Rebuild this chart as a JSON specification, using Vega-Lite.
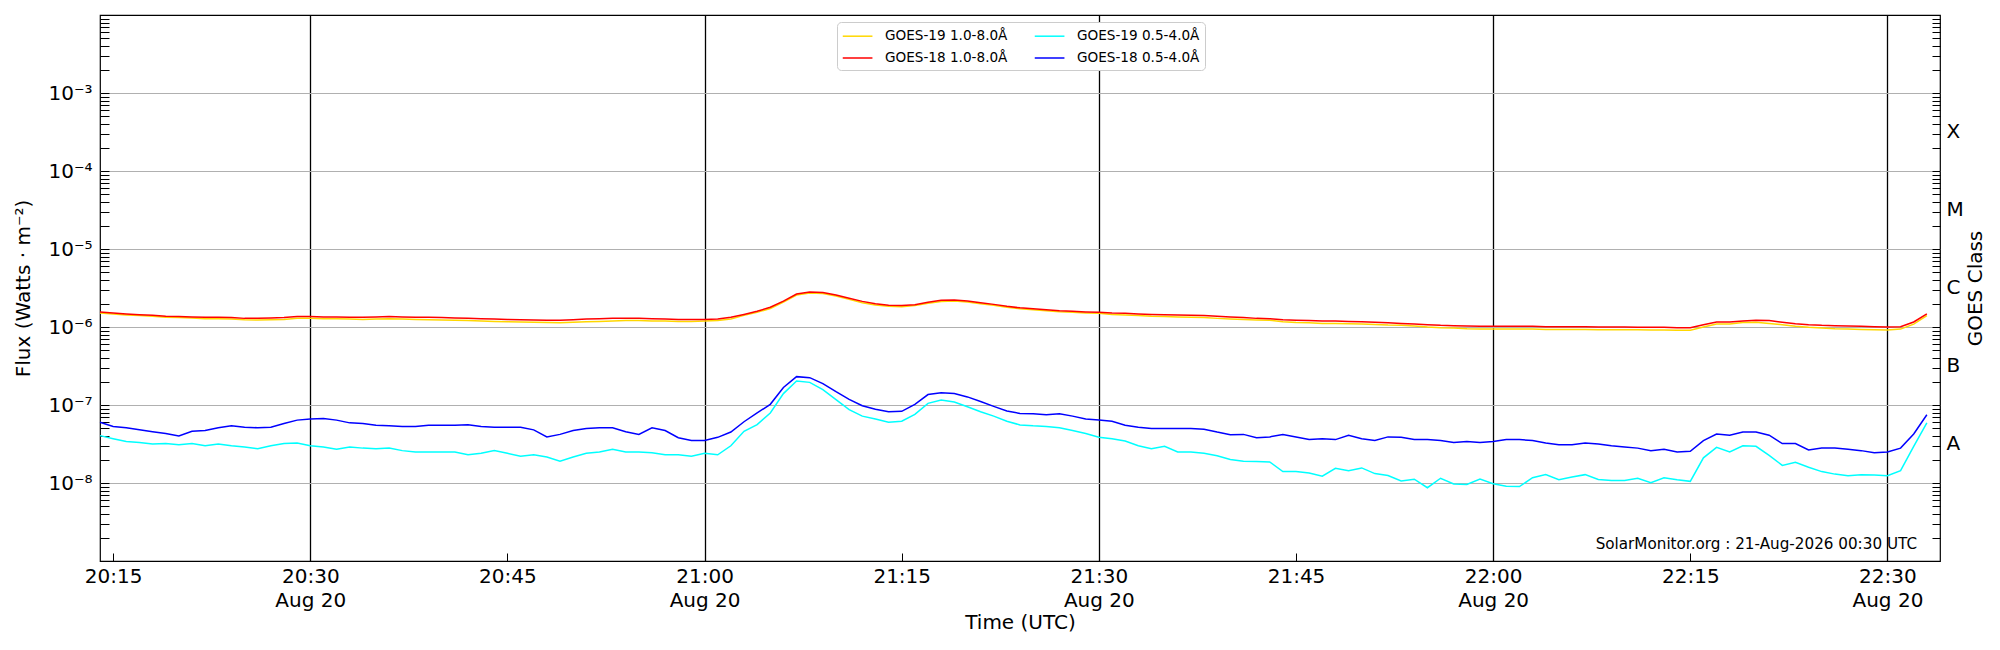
{
  "$schema": "https://vega.github.io/schema/vega-lite/v6.json",
  "width": 1840,
  "height": 546,
  "autosize": {"type": "none"},
  "padding": {"left": 100, "top": 15, "right": 60, "bottom": 89},
  "background": "white",
  "config": {
    "font": "DejaVu Sans",
    "view": {"stroke": "black", "strokeWidth": 1.2},
    "axis": {
      "domain": false,
      "labelColor": "black",
      "titleColor": "black",
      "tickColor": "black",
      "titleFontWeight": "normal",
      "labelFontSize": 20,
      "titleFontSize": 20,
      "labelFlush": false,
      "labelOverlap": false
    }
  },
  "resolve": {"axis": {"y": "independent"}},
  "layer": [
    {
      "data": {
        "values": [
          {"t":"2026-08-20T20:14:00Z","a":1.51e-6,"b":1.56e-6,"c":4.05e-8,"d":6.0e-8},
          {"t":"2026-08-20T20:15:00Z","a":1.47e-6,"b":1.51e-6,"c":3.7e-8,"d":5.3e-8},
          {"t":"2026-08-20T20:16:00Z","a":1.43e-6,"b":1.47e-6,"c":3.4e-8,"d":5.1e-8},
          {"t":"2026-08-20T20:17:00Z","a":1.40e-6,"b":1.44e-6,"c":3.3e-8,"d":4.8e-8},
          {"t":"2026-08-20T20:18:00Z","a":1.37e-6,"b":1.41e-6,"c":3.16e-8,"d":4.55e-8},
          {"t":"2026-08-20T20:19:00Z","a":1.33e-6,"b":1.37e-6,"c":3.2e-8,"d":4.3e-8},
          {"t":"2026-08-20T20:20:00Z","a":1.32e-6,"b":1.36e-6,"c":3.1e-8,"d":4.0e-8},
          {"t":"2026-08-20T20:21:00Z","a":1.30e-6,"b":1.34e-6,"c":3.2e-8,"d":4.6e-8},
          {"t":"2026-08-20T20:22:00Z","a":1.28e-6,"b":1.33e-6,"c":3.0e-8,"d":4.7e-8},
          {"t":"2026-08-20T20:23:00Z","a":1.28e-6,"b":1.33e-6,"c":3.16e-8,"d":5.1e-8},
          {"t":"2026-08-20T20:24:00Z","a":1.27e-6,"b":1.32e-6,"c":3.0e-8,"d":5.4e-8},
          {"t":"2026-08-20T20:25:00Z","a":1.24e-6,"b":1.29e-6,"c":2.9e-8,"d":5.2e-8},
          {"t":"2026-08-20T20:26:00Z","a":1.23e-6,"b":1.29e-6,"c":2.75e-8,"d":5.1e-8},
          {"t":"2026-08-20T20:27:00Z","a":1.24e-6,"b":1.30e-6,"c":3.0e-8,"d":5.2e-8},
          {"t":"2026-08-20T20:28:00Z","a":1.25e-6,"b":1.32e-6,"c":3.2e-8,"d":5.8e-8},
          {"t":"2026-08-20T20:29:00Z","a":1.29e-6,"b":1.36e-6,"c":3.26e-8,"d":6.4e-8},
          {"t":"2026-08-20T20:30:00Z","a":1.29e-6,"b":1.36e-6,"c":3.0e-8,"d":6.6e-8},
          {"t":"2026-08-20T20:31:00Z","a":1.28e-6,"b":1.34e-6,"c":2.9e-8,"d":6.7e-8},
          {"t":"2026-08-20T20:32:00Z","a":1.28e-6,"b":1.34e-6,"c":2.7e-8,"d":6.4e-8},
          {"t":"2026-08-20T20:33:00Z","a":1.27e-6,"b":1.33e-6,"c":2.9e-8,"d":5.9e-8},
          {"t":"2026-08-20T20:34:00Z","a":1.25e-6,"b":1.33e-6,"c":2.8e-8,"d":5.8e-8},
          {"t":"2026-08-20T20:35:00Z","a":1.27e-6,"b":1.34e-6,"c":2.75e-8,"d":5.5e-8},
          {"t":"2026-08-20T20:36:00Z","a":1.28e-6,"b":1.36e-6,"c":2.8e-8,"d":5.4e-8},
          {"t":"2026-08-20T20:37:00Z","a":1.27e-6,"b":1.34e-6,"c":2.6e-8,"d":5.3e-8},
          {"t":"2026-08-20T20:38:00Z","a":1.25e-6,"b":1.33e-6,"c":2.5e-8,"d":5.3e-8},
          {"t":"2026-08-20T20:39:00Z","a":1.24e-6,"b":1.33e-6,"c":2.5e-8,"d":5.5e-8},
          {"t":"2026-08-20T20:40:00Z","a":1.23e-6,"b":1.32e-6,"c":2.5e-8,"d":5.5e-8},
          {"t":"2026-08-20T20:41:00Z","a":1.22e-6,"b":1.30e-6,"c":2.5e-8,"d":5.5e-8},
          {"t":"2026-08-20T20:42:00Z","a":1.21e-6,"b":1.29e-6,"c":2.3e-8,"d":5.6e-8},
          {"t":"2026-08-20T20:43:00Z","a":1.19e-6,"b":1.28e-6,"c":2.4e-8,"d":5.3e-8},
          {"t":"2026-08-20T20:44:00Z","a":1.18e-6,"b":1.27e-6,"c":2.6e-8,"d":5.2e-8},
          {"t":"2026-08-20T20:45:00Z","a":1.17e-6,"b":1.25e-6,"c":2.4e-8,"d":5.2e-8},
          {"t":"2026-08-20T20:46:00Z","a":1.16e-6,"b":1.24e-6,"c":2.2e-8,"d":5.2e-8},
          {"t":"2026-08-20T20:47:00Z","a":1.15e-6,"b":1.23e-6,"c":2.3e-8,"d":4.8e-8},
          {"t":"2026-08-20T20:48:00Z","a":1.14e-6,"b":1.22e-6,"c":2.15e-8,"d":3.9e-8},
          {"t":"2026-08-20T20:49:00Z","a":1.13e-6,"b":1.22e-6,"c":1.9e-8,"d":4.2e-8},
          {"t":"2026-08-20T20:50:00Z","a":1.15e-6,"b":1.24e-6,"c":2.15e-8,"d":4.7e-8},
          {"t":"2026-08-20T20:51:00Z","a":1.17e-6,"b":1.27e-6,"c":2.4e-8,"d":5.0e-8},
          {"t":"2026-08-20T20:52:00Z","a":1.18e-6,"b":1.28e-6,"c":2.5e-8,"d":5.1e-8},
          {"t":"2026-08-20T20:53:00Z","a":1.19e-6,"b":1.29e-6,"c":2.7e-8,"d":5.1e-8},
          {"t":"2026-08-20T20:54:00Z","a":1.21e-6,"b":1.29e-6,"c":2.5e-8,"d":4.55e-8},
          {"t":"2026-08-20T20:55:00Z","a":1.21e-6,"b":1.29e-6,"c":2.5e-8,"d":4.2e-8},
          {"t":"2026-08-20T20:56:00Z","a":1.19e-6,"b":1.28e-6,"c":2.45e-8,"d":5.1e-8},
          {"t":"2026-08-20T20:57:00Z","a":1.19e-6,"b":1.27e-6,"c":2.3e-8,"d":4.7e-8},
          {"t":"2026-08-20T20:58:00Z","a":1.18e-6,"b":1.25e-6,"c":2.3e-8,"d":3.8e-8},
          {"t":"2026-08-20T20:59:00Z","a":1.18e-6,"b":1.25e-6,"c":2.2e-8,"d":3.5e-8},
          {"t":"2026-08-20T21:00:00Z","a":1.19e-6,"b":1.25e-6,"c":2.4e-8,"d":3.5e-8},
          {"t":"2026-08-20T21:01:00Z","a":1.21e-6,"b":1.27e-6,"c":2.3e-8,"d":3.85e-8},
          {"t":"2026-08-20T21:02:00Z","a":1.27e-6,"b":1.33e-6,"c":3.0e-8,"d":4.5e-8},
          {"t":"2026-08-20T21:03:00Z","a":1.41e-6,"b":1.45e-6,"c":4.6e-8,"d":6.1e-8},
          {"t":"2026-08-20T21:04:00Z","a":1.54e-6,"b":1.59e-6,"c":5.6e-8,"d":7.9e-8},
          {"t":"2026-08-20T21:05:00Z","a":1.73e-6,"b":1.79e-6,"c":7.9e-8,"d":1.02e-7},
          {"t":"2026-08-20T21:06:00Z","a":2.09e-6,"b":2.15e-6,"c":1.40e-7,"d":1.68e-7},
          {"t":"2026-08-20T21:07:00Z","a":2.57e-6,"b":2.65e-6,"c":2.03e-7,"d":2.31e-7},
          {"t":"2026-08-20T21:08:00Z","a":2.73e-6,"b":2.81e-6,"c":1.95e-7,"d":2.24e-7},
          {"t":"2026-08-20T21:09:00Z","a":2.68e-6,"b":2.76e-6,"c":1.57e-7,"d":1.88e-7},
          {"t":"2026-08-20T21:10:00Z","a":2.50e-6,"b":2.57e-6,"c":1.17e-7,"d":1.48e-7},
          {"t":"2026-08-20T21:11:00Z","a":2.26e-6,"b":2.33e-6,"c":8.7e-8,"d":1.18e-7},
          {"t":"2026-08-20T21:12:00Z","a":2.05e-6,"b":2.13e-6,"c":7.2e-8,"d":9.8e-8},
          {"t":"2026-08-20T21:13:00Z","a":1.91e-6,"b":1.99e-6,"c":6.6e-8,"d":8.8e-8},
          {"t":"2026-08-20T21:14:00Z","a":1.84e-6,"b":1.90e-6,"c":6.0e-8,"d":8.2e-8},
          {"t":"2026-08-20T21:15:00Z","a":1.82e-6,"b":1.88e-6,"c":6.2e-8,"d":8.3e-8},
          {"t":"2026-08-20T21:16:00Z","a":1.88e-6,"b":1.93e-6,"c":7.6e-8,"d":1.02e-7},
          {"t":"2026-08-20T21:17:00Z","a":2.01e-6,"b":2.07e-6,"c":1.05e-7,"d":1.36e-7},
          {"t":"2026-08-20T21:18:00Z","a":2.13e-6,"b":2.20e-6,"c":1.16e-7,"d":1.44e-7},
          {"t":"2026-08-20T21:19:00Z","a":2.15e-6,"b":2.22e-6,"c":1.09e-7,"d":1.40e-7},
          {"t":"2026-08-20T21:20:00Z","a":2.09e-6,"b":2.15e-6,"c":9.5e-8,"d":1.27e-7},
          {"t":"2026-08-20T21:21:00Z","a":1.99e-6,"b":2.05e-6,"c":8.2e-8,"d":1.11e-7},
          {"t":"2026-08-20T21:22:00Z","a":1.90e-6,"b":1.95e-6,"c":7.2e-8,"d":9.6e-8},
          {"t":"2026-08-20T21:23:00Z","a":1.79e-6,"b":1.84e-6,"c":6.2e-8,"d":8.4e-8},
          {"t":"2026-08-20T21:24:00Z","a":1.71e-6,"b":1.76e-6,"c":5.55e-8,"d":7.8e-8},
          {"t":"2026-08-20T21:25:00Z","a":1.67e-6,"b":1.72e-6,"c":5.4e-8,"d":7.7e-8},
          {"t":"2026-08-20T21:26:00Z","a":1.62e-6,"b":1.67e-6,"c":5.3e-8,"d":7.5e-8},
          {"t":"2026-08-20T21:27:00Z","a":1.57e-6,"b":1.62e-6,"c":5.1e-8,"d":7.7e-8},
          {"t":"2026-08-20T21:28:00Z","a":1.54e-6,"b":1.59e-6,"c":4.7e-8,"d":7.2e-8},
          {"t":"2026-08-20T21:29:00Z","a":1.51e-6,"b":1.56e-6,"c":4.3e-8,"d":6.6e-8},
          {"t":"2026-08-20T21:30:00Z","a":1.50e-6,"b":1.54e-6,"c":3.85e-8,"d":6.4e-8},
          {"t":"2026-08-20T21:31:00Z","a":1.45e-6,"b":1.51e-6,"c":3.7e-8,"d":6.2e-8},
          {"t":"2026-08-20T21:32:00Z","a":1.43e-6,"b":1.50e-6,"c":3.45e-8,"d":5.5e-8},
          {"t":"2026-08-20T21:33:00Z","a":1.40e-6,"b":1.47e-6,"c":3.0e-8,"d":5.2e-8},
          {"t":"2026-08-20T21:34:00Z","a":1.37e-6,"b":1.45e-6,"c":2.75e-8,"d":5.0e-8},
          {"t":"2026-08-20T21:35:00Z","a":1.36e-6,"b":1.44e-6,"c":2.95e-8,"d":5.0e-8},
          {"t":"2026-08-20T21:36:00Z","a":1.34e-6,"b":1.43e-6,"c":2.5e-8,"d":5.0e-8},
          {"t":"2026-08-20T21:37:00Z","a":1.33e-6,"b":1.41e-6,"c":2.5e-8,"d":5.0e-8},
          {"t":"2026-08-20T21:38:00Z","a":1.32e-6,"b":1.40e-6,"c":2.4e-8,"d":4.9e-8},
          {"t":"2026-08-20T21:39:00Z","a":1.29e-6,"b":1.37e-6,"c":2.24e-8,"d":4.5e-8},
          {"t":"2026-08-20T21:40:00Z","a":1.27e-6,"b":1.34e-6,"c":2.0e-8,"d":4.17e-8},
          {"t":"2026-08-20T21:41:00Z","a":1.25e-6,"b":1.32e-6,"c":1.9e-8,"d":4.2e-8},
          {"t":"2026-08-20T21:42:00Z","a":1.23e-6,"b":1.29e-6,"c":1.88e-8,"d":3.8e-8},
          {"t":"2026-08-20T21:43:00Z","a":1.22e-6,"b":1.28e-6,"c":1.86e-8,"d":3.9e-8},
          {"t":"2026-08-20T21:44:00Z","a":1.17e-6,"b":1.24e-6,"c":1.4e-8,"d":4.17e-8},
          {"t":"2026-08-20T21:45:00Z","a":1.14e-6,"b":1.22e-6,"c":1.4e-8,"d":3.9e-8},
          {"t":"2026-08-20T21:46:00Z","a":1.13e-6,"b":1.21e-6,"c":1.34e-8,"d":3.6e-8},
          {"t":"2026-08-20T21:47:00Z","a":1.11e-6,"b":1.19e-6,"c":1.22e-8,"d":3.7e-8},
          {"t":"2026-08-20T21:48:00Z","a":1.11e-6,"b":1.19e-6,"c":1.54e-8,"d":3.6e-8},
          {"t":"2026-08-20T21:49:00Z","a":1.10e-6,"b":1.18e-6,"c":1.44e-8,"d":4.1e-8},
          {"t":"2026-08-20T21:50:00Z","a":1.09e-6,"b":1.17e-6,"c":1.56e-8,"d":3.7e-8},
          {"t":"2026-08-20T21:51:00Z","a":1.08e-6,"b":1.15e-6,"c":1.32e-8,"d":3.5e-8},
          {"t":"2026-08-20T21:52:00Z","a":1.06e-6,"b":1.13e-6,"c":1.25e-8,"d":3.9e-8},
          {"t":"2026-08-20T21:53:00Z","a":1.05e-6,"b":1.11e-6,"c":1.06e-8,"d":3.85e-8},
          {"t":"2026-08-20T21:54:00Z","a":1.03e-6,"b":1.09e-6,"c":1.12e-8,"d":3.6e-8},
          {"t":"2026-08-20T21:55:00Z","a":1.00e-6,"b":1.07e-6,"c":8.7e-9,"d":3.6e-8},
          {"t":"2026-08-20T21:56:00Z","a":0.98e-6,"b":1.05e-6,"c":1.15e-8,"d":3.5e-8},
          {"t":"2026-08-20T21:57:00Z","a":0.97e-6,"b":1.04e-6,"c":9.7e-9,"d":3.3e-8},
          {"t":"2026-08-20T21:58:00Z","a":0.95e-6,"b":1.03e-6,"c":9.6e-9,"d":3.4e-8},
          {"t":"2026-08-20T21:59:00Z","a":0.94e-6,"b":1.02e-6,"c":1.12e-8,"d":3.3e-8},
          {"t":"2026-08-20T22:00:00Z","a":0.94e-6,"b":1.02e-6,"c":9.8e-9,"d":3.4e-8},
          {"t":"2026-08-20T22:01:00Z","a":0.94e-6,"b":1.02e-6,"c":9.1e-9,"d":3.6e-8},
          {"t":"2026-08-20T22:02:00Z","a":0.94e-6,"b":1.02e-6,"c":9.0e-9,"d":3.6e-8},
          {"t":"2026-08-20T22:03:00Z","a":0.94e-6,"b":1.02e-6,"c":1.17e-8,"d":3.5e-8},
          {"t":"2026-08-20T22:04:00Z","a":0.93e-6,"b":1.01e-6,"c":1.28e-8,"d":3.26e-8},
          {"t":"2026-08-20T22:05:00Z","a":0.93e-6,"b":1.01e-6,"c":1.10e-8,"d":3.1e-8},
          {"t":"2026-08-20T22:06:00Z","a":0.93e-6,"b":1.01e-6,"c":1.19e-8,"d":3.1e-8},
          {"t":"2026-08-20T22:07:00Z","a":0.93e-6,"b":1.01e-6,"c":1.28e-8,"d":3.26e-8},
          {"t":"2026-08-20T22:08:00Z","a":0.92e-6,"b":1.00e-6,"c":1.11e-8,"d":3.16e-8},
          {"t":"2026-08-20T22:09:00Z","a":0.92e-6,"b":1.00e-6,"c":1.08e-8,"d":3.0e-8},
          {"t":"2026-08-20T22:10:00Z","a":0.92e-6,"b":1.00e-6,"c":1.08e-8,"d":2.9e-8},
          {"t":"2026-08-20T22:11:00Z","a":0.92e-6,"b":0.99e-6,"c":1.15e-8,"d":2.8e-8},
          {"t":"2026-08-20T22:12:00Z","a":0.915e-6,"b":0.99e-6,"c":1.01e-8,"d":2.6e-8},
          {"t":"2026-08-20T22:13:00Z","a":0.915e-6,"b":0.99e-6,"c":1.17e-8,"d":2.7e-8},
          {"t":"2026-08-20T22:14:00Z","a":0.91e-6,"b":0.98e-6,"c":1.10e-8,"d":2.5e-8},
          {"t":"2026-08-20T22:15:00Z","a":0.91e-6,"b":0.98e-6,"c":1.05e-8,"d":2.55e-8},
          {"t":"2026-08-20T22:16:00Z","a":1.00e-6,"b":1.07e-6,"c":2.1e-8,"d":3.5e-8},
          {"t":"2026-08-20T22:17:00Z","a":1.09e-6,"b":1.16e-6,"c":2.86e-8,"d":4.25e-8},
          {"t":"2026-08-20T22:18:00Z","a":1.09e-6,"b":1.16e-6,"c":2.5e-8,"d":4.1e-8},
          {"t":"2026-08-20T22:19:00Z","a":1.14e-6,"b":1.19e-6,"c":3.0e-8,"d":4.5e-8},
          {"t":"2026-08-20T22:20:00Z","a":1.15e-6,"b":1.22e-6,"c":2.95e-8,"d":4.5e-8},
          {"t":"2026-08-20T22:21:00Z","a":1.11e-6,"b":1.21e-6,"c":2.26e-8,"d":4.1e-8},
          {"t":"2026-08-20T22:22:00Z","a":1.07e-6,"b":1.15e-6,"c":1.68e-8,"d":3.2e-8},
          {"t":"2026-08-20T22:23:00Z","a":1.02e-6,"b":1.10e-6,"c":1.84e-8,"d":3.2e-8},
          {"t":"2026-08-20T22:24:00Z","a":0.99e-6,"b":1.07e-6,"c":1.59e-8,"d":2.65e-8},
          {"t":"2026-08-20T22:25:00Z","a":0.97e-6,"b":1.05e-6,"c":1.4e-8,"d":2.8e-8},
          {"t":"2026-08-20T22:26:00Z","a":0.95e-6,"b":1.04e-6,"c":1.3e-8,"d":2.8e-8},
          {"t":"2026-08-20T22:27:00Z","a":0.94e-6,"b":1.03e-6,"c":1.24e-8,"d":2.7e-8},
          {"t":"2026-08-20T22:28:00Z","a":0.93e-6,"b":1.02e-6,"c":1.28e-8,"d":2.6e-8},
          {"t":"2026-08-20T22:29:00Z","a":0.92e-6,"b":1.01e-6,"c":1.27e-8,"d":2.45e-8},
          {"t":"2026-08-20T22:30:00Z","a":0.915e-6,"b":1.00e-6,"c":1.24e-8,"d":2.5e-8},
          {"t":"2026-08-20T22:31:00Z","a":0.94e-6,"b":1.01e-6,"c":1.44e-8,"d":2.8e-8},
          {"t":"2026-08-20T22:32:00Z","a":1.09e-6,"b":1.16e-6,"c":2.95e-8,"d":4.25e-8},
          {"t":"2026-08-20T22:33:00Z","a":1.40e-6,"b":1.47e-6,"c":5.9e-8,"d":7.5e-8}
        ]
      },
      "transform": [{"fold": ["a", "b", "c", "d"], "as": ["series", "flux"]}],
      "mark": {"type": "line", "strokeWidth": 1.5},
      "encoding": {
        "x": {
          "field": "t",
          "type": "temporal",
          "title": "Time (UTC)",
          "scale": {
            "type": "utc",
            "domain": [
              {"year": 2026, "month": 8, "date": 20, "hours": 20, "minutes": 14, "utc": true},
              {"year": 2026, "month": 8, "date": 20, "hours": 22, "minutes": 34, "utc": true}
            ]
          },
          "axis": {
            "orient": "bottom",
            "values": [
              {"year": 2026, "month": 8, "date": 20, "hours": 20, "minutes": 15, "utc": true},
              {"year": 2026, "month": 8, "date": 20, "hours": 20, "minutes": 30, "utc": true},
              {"year": 2026, "month": 8, "date": 20, "hours": 20, "minutes": 45, "utc": true},
              {"year": 2026, "month": 8, "date": 20, "hours": 21, "minutes": 0, "utc": true},
              {"year": 2026, "month": 8, "date": 20, "hours": 21, "minutes": 15, "utc": true},
              {"year": 2026, "month": 8, "date": 20, "hours": 21, "minutes": 30, "utc": true},
              {"year": 2026, "month": 8, "date": 20, "hours": 21, "minutes": 45, "utc": true},
              {"year": 2026, "month": 8, "date": 20, "hours": 22, "minutes": 0, "utc": true},
              {"year": 2026, "month": 8, "date": 20, "hours": 22, "minutes": 15, "utc": true},
              {"year": 2026, "month": 8, "date": 20, "hours": 22, "minutes": 30, "utc": true}
            ],
            "labelExpr": "utcminutes(datum.value) % 30 === 0 ? [utcFormat(datum.value, '%H:%M'), utcFormat(datum.value, '%b %d')] : utcFormat(datum.value, '%H:%M')",
            "labelLineHeight": 24,
            "labelPadding": 13,
            "tickSize": -8,
            "tickWidth": 1,
            "grid": true,
            "gridColor": "black",
            "gridWidth": 1.3,
            "gridOpacity": {"condition": {"test": "utcminutes(datum.value) % 30 === 0", "value": 1}, "value": 0},
            "titlePadding": 2
          }
        },
        "y": {
          "field": "flux",
          "type": "quantitative",
          "title": "Flux (Watts · m⁻²)",
          "scale": {"type": "log", "domain": [1e-9, 1e-2], "nice": false},
          "axis": {
            "orient": "left",
            "values": [2e-9, 3e-9, 4e-9, 5e-9, 6e-9, 7e-9, 8e-9, 9e-9,
                       1e-8, 2e-8, 3e-8, 4e-8, 5e-8, 6e-8, 7e-8, 8e-8, 9e-8,
                       1e-7, 2e-7, 3e-7, 4e-7, 5e-7, 6e-7, 7e-7, 8e-7, 9e-7,
                       1e-6, 2e-6, 3e-6, 4e-6, 5e-6, 6e-6, 7e-6, 8e-6, 9e-6,
                       1e-5, 2e-5, 3e-5, 4e-5, 5e-5, 6e-5, 7e-5, 8e-5, 9e-5,
                       1e-4, 2e-4, 3e-4, 4e-4, 5e-4, 6e-4, 7e-4, 8e-4, 9e-4,
                       1e-3, 2e-3, 3e-3, 4e-3, 5e-3, 6e-3, 7e-3, 8e-3, 9e-3],
            "labelExpr": "abs(log(datum.value) / LN10 - round(log(datum.value) / LN10)) < 0.001 ? '10⁻' + ['⁰','¹','²','³','⁴','⁵','⁶','⁷','⁸','⁹'][-round(log(datum.value) / LN10)] : ''",
            "tickSize": -9,
            "tickWidth": 1,
            "labelPadding": 17,
            "grid": true,
            "gridColor": "#b0b0b0",
            "gridWidth": 1,
            "gridOpacity": {"condition": {"test": "abs(log(datum.value) / LN10 - round(log(datum.value) / LN10)) < 0.001", "value": 1}, "value": 0},
            "titlePadding": 14
          }
        },
        "color": {
          "field": "series",
          "type": "nominal",
          "scale": {
            "domain": ["a", "b", "c", "d"],
            "range": ["#ffd700", "#ff0000", "#00ffff", "#0000ff"]
          },
          "legend": {
            "orient": "none",
            "legendX": 737,
            "legendY": 7,
            "title": null,
            "columns": 2,
            "symbolType": "M-1,0H2.6",
            "symbolSize": 272,
            "symbolStrokeWidth": 1.5,
            "labelFontSize": 13.6,
            "labelColor": "black",
            "labelOffset": 25,
            "columnPadding": 23,
            "rowPadding": 6,
            "padding": 5,
            "strokeColor": "#cccccc",
            "fillColor": "white",
            "cornerRadius": 4,
            "labelExpr": "datum.label === 'a' ? 'GOES-19 1.0-8.0Å' : datum.label === 'b' ? 'GOES-18 1.0-8.0Å' : datum.label === 'c' ? 'GOES-19 0.5-4.0Å' : 'GOES-18 0.5-4.0Å'"
          }
        }
      }
    },
    {
      "data": {
        "values": [
          {"label": "SolarMonitor.org : 21-Aug-2026 00:30 UTC", "t": "2026-08-20T22:32:15Z", "f": 1.43e-9}
        ]
      },
      "mark": {"type": "text", "align": "right", "baseline": "alphabetic", "fontSize": 15.2, "color": "black"},
      "encoding": {
        "x": {"field": "t", "type": "temporal", "title": "Time (UTC)"},
        "y": {
          "field": "f",
          "type": "quantitative",
          "title": "GOES Class",
          "scale": {"type": "log", "domain": [1e-9, 1e-2], "nice": false},
          "axis": {
            "orient": "right",
            "values": [2e-9, 3e-9, 4e-9, 5e-9, 6e-9, 7e-9, 8e-9, 9e-9,
                       1e-8, 2e-8, 3.16228e-8, 3e-8, 4e-8, 5e-8, 6e-8, 7e-8, 8e-8, 9e-8,
                       1e-7, 2e-7, 3.16228e-7, 3e-7, 4e-7, 5e-7, 6e-7, 7e-7, 8e-7, 9e-7,
                       1e-6, 2e-6, 3.16228e-6, 3e-6, 4e-6, 5e-6, 6e-6, 7e-6, 8e-6, 9e-6,
                       1e-5, 2e-5, 3.16228e-5, 3e-5, 4e-5, 5e-5, 6e-5, 7e-5, 8e-5, 9e-5,
                       1e-4, 2e-4, 3.16228e-4, 3e-4, 4e-4, 5e-4, 6e-4, 7e-4, 8e-4, 9e-4,
                       1e-3, 2e-3, 3e-3, 4e-3, 5e-3, 6e-3, 7e-3, 8e-3, 9e-3],
            "labelExpr": "abs(log(datum.value) / LN10 - floor(log(datum.value) / LN10) - 0.5) < 0.01 ? ['A','B','C','M','X'][floor(log(datum.value) / LN10) + 8] : ''",
            "tickSize": -8,
            "tickWidth": 1,
            "tickOpacity": {"condition": {"test": "abs(log(datum.value) / LN10 - floor(log(datum.value) / LN10) - 0.5) < 0.01", "value": 0}, "value": 1},
            "labelPadding": 14,
            "grid": false,
            "titleAngle": 270,
            "titleBaseline": "top",
            "titlePadding": 2
          }
        },
        "text": {"field": "label"}
      }
    }
  ]
}
